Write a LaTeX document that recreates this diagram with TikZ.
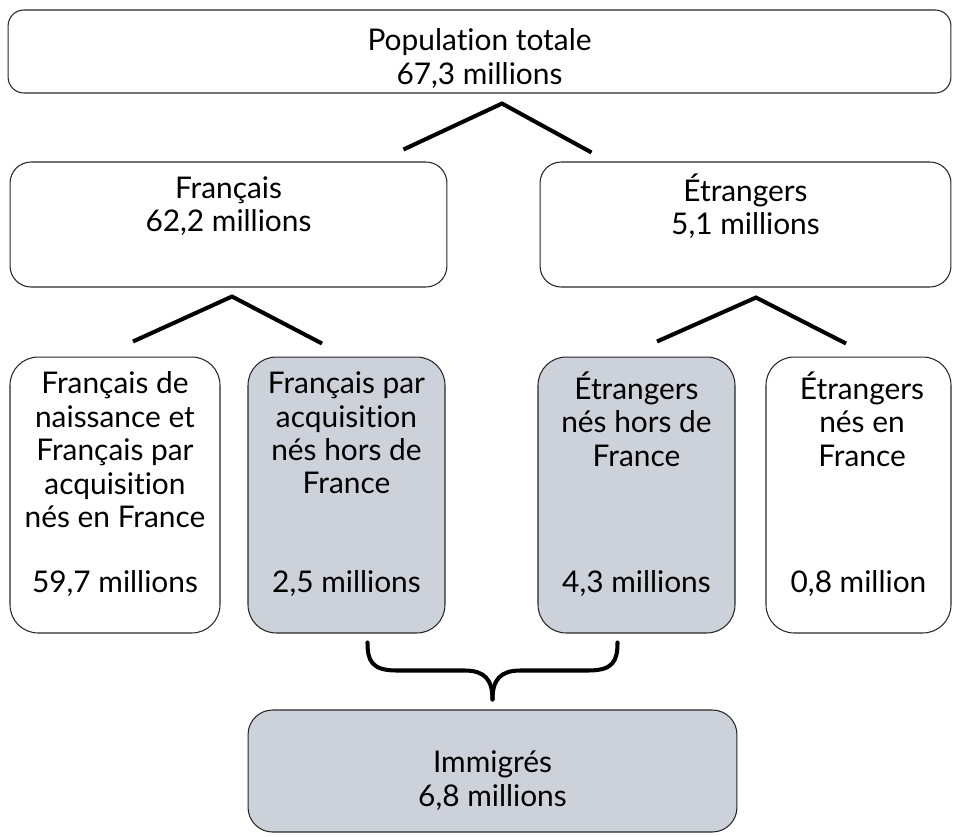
\documentclass[tikz,border=0pt]{standalone}
\usepackage{fontspec}
\setmainfont{Lato}[Ligatures=NoCommon]
\usetikzlibrary{positioning}
\definecolor{grisbleu}{RGB}{205,209,217}

\begin{document}
\begin{tikzpicture}[x=0.02cm,y=-0.02cm,
  boite/.style={draw=black!85,line width=0.6pt,rounded corners=#1,inner sep=0pt},
  grise/.style={fill=grisbleu},
  texte/.style={align=center,inner sep=0pt,font=\fontsize{17}{19}\selectfont},
  lien/.style={line width=2.3pt,line cap=butt},
  accolade/.style={line width=2.3pt,line cap=round,line join=round}]
\useasboundingbox(0,0)rectangle(957,836);

% niveau 1
\node[boite=9pt,minimum width=18.86cm,minimum height=1.66cm](pop)at(479.5,51.5){};
\node[texte](popT)at([yshift=-0.14cm]pop.center){Population totale\\67,3 millions};

% niveau 2
\node[boite=12pt,minimum width=8.74cm,minimum height=2.5cm](fr)at(228.5,224.5){};
\node[texte](frT)at([yshift=0.37cm]fr.center){Français\\62,2 millions};
\node[boite=12pt,minimum width=8.22cm,minimum height=2.5cm](et)at(745.5,224.5){};
\node[texte](etT)at([yshift=0.37cm]et.center){Étrangers\\5,1 millions};

\draw[lien]([xshift=-0.88cm,yshift=0.24cm]fr.north east)--([xshift=0.45cm,yshift=-0.2cm]pop.south)
  --([xshift=1.04cm,yshift=0.18cm]et.north west);

% niveau 3
\node[boite=16pt,minimum width=4.2cm,minimum height=5.52cm](fn)at(115,495){};
\node[boite=16pt,grise,minimum width=3.94cm,minimum height=5.52cm](fa)at(346.5,495){};
\node[boite=16pt,grise,minimum width=3.94cm,minimum height=5.52cm](eh)at(636.5,495){};
\node[boite=16pt,minimum width=3.7cm,minimum height=5.52cm](ef)at(858.5,495){};

\node[texte,anchor=north](fnT)at([yshift=-0.3cm]fn.north){Français de\\naissance et\\Français par\\acquisition\\nés en France};
\node[texte,anchor=base](fnN)at([yshift=0.82cm]fn.south){59,7 millions};
\node[texte,anchor=north](faT)at([yshift=-0.3cm]fa.north){Français par\\acquisition\\nés hors de\\France};
\node[texte,anchor=base](faN)at([yshift=0.82cm]fa.south){2,5 millions};
\node[texte,anchor=north](ehT)at([yshift=-0.3cm]eh.north){Étrangers\\nés hors de\\France};
\node[texte,anchor=base](ehN)at([yshift=0.82cm]eh.south){4,3 millions};
\node[texte,anchor=north](efT)at([xshift=0.07cm,yshift=-0.3cm]ef.north){Étrangers\\nés en\\France};
\node[texte,anchor=base](efN)at([yshift=0.82cm]ef.south){0,8 million};

\draw[lien]([xshift=0.36cm,yshift=0.3cm]fn.north)--([xshift=0.07cm,yshift=-0.18cm]fr.south)
  --([xshift=-0.49cm,yshift=0.26cm]fa.north);
\draw[lien]([xshift=0.41cm,yshift=0.3cm]eh.north)--([xshift=0.21cm,yshift=-0.2cm]et.south)
  --([xshift=-0.25cm,yshift=0.26cm]ef.north);

% immigres
\node[boite=14pt,grise,minimum width=9.78cm,minimum height=2.44cm](imm)at(492.5,771){};
\node[texte](immT)at([yshift=-0.19cm]imm.center){Immigrés\\6,8 millions};

\coordinate(pointe)at([yshift=0.2cm]imm.north);
\draw[accolade](pointe)..controls++(0,-20)and++(20,0)..++(-28,-29)--++(-68,0)
  ..controls++(-25,0)and++(0,18)..++(-29,-28);
\draw[accolade](pointe)..controls++(0,-20)and++(-20,0)..++(28,-29)--++(68,0)
  ..controls++(25,0)and++(0,18)..++(29,-28);
\end{tikzpicture}
\end{document}
